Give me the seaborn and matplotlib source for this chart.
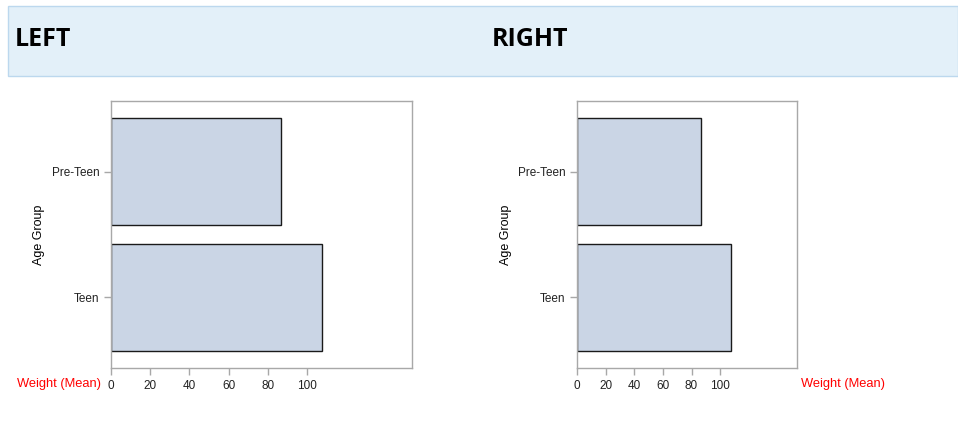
import matplotlib
matplotlib.use("Agg")
import matplotlib.pyplot as plt
import pandas as pd
import seaborn as sns
from matplotlib.patches import Rectangle

age_groups = ["Pre-Teen", "Teen"]
mean_weight = [86.7, 107.7]
x_ticks = [0, 20, 40, 60, 80, 100]

df = pd.DataFrame({"Age Group": age_groups, "Weight (Mean)": mean_weight})

sns.set_style("white")
plt.rcParams["font.family"] = ["Liberation Sans", "DejaVu Sans"]

W, H = 958, 426
fig = plt.figure(figsize=(W / 100, H / 100), dpi=100)


def px_box(x0, y0, x1, y1):
    return [x0 / W, 1 - y1 / H, (x1 - x0) / W, (y1 - y0) / H]


# header band
fig.patches.append(Rectangle((8 / W, 1 - 76 / H), 1 - 8 / W, 70 / H,
                             transform=fig.transFigure, facecolor="#e3f0f9",
                             edgecolor="#bcd8ee", linewidth=1, zorder=0))
for xpos, title in [(15, "LEFT"), (492, "RIGHT")]:
    fig.text(xpos / W, 1 - 40 / H, title, fontsize=18, fontweight="bold",
             color="black", family=["Open Sans", "DejaVu Sans"],
             va="center", ha="left")

axes = [fig.add_axes(px_box(111, 101, 412, 368)),
        fig.add_axes(px_box(577, 101, 797, 368))]

for ax in axes:
    sns.barplot(data=df, y="Age Group", x="Weight (Mean)", orient="h",
                color="#cad5e5", edgecolor="#1a1a1a", linewidth=1,
                width=0.857, saturation=1, ax=ax)
    ax.set_xlim(0, 153.7)
    ax.set_ylim(1.56, -0.56)
    ax.set_xticks(x_ticks)
    for s in ax.spines.values():
        s.set_color("#a8a8a8")
        s.set_linewidth(1)
    ax.tick_params(axis="both", colors="#a8a8a8", labelcolor="#222222",
                   labelsize=8.5, length=5, width=1, direction="out",
                   left=True, bottom=True)
    ax.set_ylabel("Age Group", fontsize=9, color="black")
    ax.set_xlabel("Weight (Mean)", color="red", fontsize=9.3, va="center")

axes[0].yaxis.set_label_coords(-0.22, 0.5)
axes[0].xaxis.label.set_ha("right")
axes[0].xaxis.set_label_coords(-0.033, -0.06)
axes[1].yaxis.set_label_coords(-0.297, 0.5)
axes[1].xaxis.label.set_ha("left")
axes[1].xaxis.set_label_coords(1.018, -0.06)

fig.savefig("out.png", dpi=100)
